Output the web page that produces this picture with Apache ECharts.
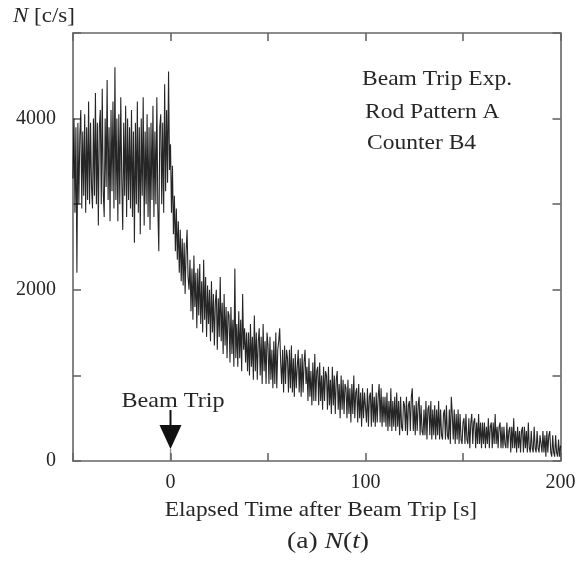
<!DOCTYPE html>
<html>
<head>
<meta charset="utf-8">
<script src="https://cdn.jsdelivr.net/npm/echarts@6/dist/echarts.min.js"></script>
<style>html,body{margin:0;padding:0;background:#fff}#c{width:585px;height:566px}</style>
</head>
<body>
<div id="c"></div>
<script>
// sampling of the trace: one value every 0.5 s
const tStart = -50;
const tStep = 0.5;
// counts before the beam trip, t = -50 ... -0.5 s
const countsPre = [
3300,4000,2900,3900,2200,3950,3000,3800,4100,2950,3850,3100,4050,2900,3900,3050,4200,3000,3950,3200,
2950,4000,3100,4300,3000,3950,2750,3900,4100,3000,4350,3150,2850,4000,3200,4450,3050,3900,2800,4100,
3150,4200,2950,4600,3050,4000,2800,4050,3000,4250,3300,2700,3950,3100,4150,2850,4000,3050,3900,2950,
4100,2850,3850,2550,3950,3000,4200,2900,3900,2650,4000,3100,4250,2750,3850,3000,4050,2850,3900,2700,
3950,3050,4150,2850,3850,3000,4250,2950,2450,3900,4050,3000,3950,2900,4400,3150,4100,3250,4550,3400
];
// counts after the beam trip, t = 0 ... 200 s
const countsPost = [
3700,2900,3450,2650,3100,2450,2950,2350,2800,2200,2700,2100,2600,2050,2550,1950,2450,2700,2150,2000,
2350,1750,2250,1650,2400,1800,2200,1550,2250,1700,2300,1600,2100,1500,2350,1650,2150,1450,2050,1600,
2000,1400,2100,1500,1950,1350,1850,2000,1300,1900,1450,2150,1400,1850,1250,1950,1350,1800,1200,1750,
1700,1150,1800,1250,1650,1100,2250,1200,1600,1100,1750,1200,1650,1050,1950,1300,1550,1150,1500,1050,
1500,1000,1600,1100,1450,950,1700,1050,1500,950,1400,1550,1000,1450,900,1600,1050,1400,900,1500,
1350,900,1450,950,1300,850,1400,900,1500,850,1300,1400,1550,1150,900,1300,800,1350,900,1300,
1200,800,1300,850,1350,800,1200,750,1250,850,1100,1300,800,1200,750,1250,800,1150,1300,900,
1100,700,1200,750,1050,650,1150,700,1250,700,1050,1100,650,1150,700,1000,600,1100,700,1050,
1000,600,1100,650,950,550,1100,650,1000,550,950,1050,600,900,500,1000,600,950,550,900,
850,500,950,550,850,450,900,550,1000,500,800,850,450,900,500,800,400,850,500,800,
800,450,850,400,750,800,400,900,450,750,400,800,450,750,900,450,850,400,750,450,
750,400,800,350,700,400,850,350,700,400,750,350,800,400,700,300,750,400,350,700,
650,350,750,300,650,700,350,750,850,350,650,300,700,350,650,750,300,650,350,300,
600,300,700,250,600,650,300,700,250,600,300,650,250,600,300,700,250,600,300,250,
550,600,250,650,300,250,600,200,750,550,250,600,200,550,250,600,200,550,250,200,
450,500,200,550,250,200,500,150,450,550,200,450,500,150,450,200,550,200,450,150,
450,200,450,150,400,200,500,150,400,450,150,450,200,550,200,400,150,400,450,150,
400,150,400,200,150,450,150,350,400,100,400,150,500,150,350,100,400,150,350,100,
350,400,100,400,150,350,100,450,150,100,350,150,100,400,150,100,350,150,100,300,
300,100,350,100,300,50,350,100,300,350,100,50,300,100,50,300,100,50,250,50,
180
];
const xTickLabels = ['0','100','200'];
const yTickLabels = ['0','2000','4000'];
const tripTime = 0;
const notes = ['Beam Trip Exp.', 'Rod Pattern A', 'Counter B4'];

const counts = countsPre.concat(countsPost);
const seriesData = counts.map((v, i) => [tStart + i * tStep, v]);

const FONT = '"Liberation Serif","Times New Roman",serif';
const axisCol = '#666';
const txtCol = '#262626';

const chart = echarts.init(document.getElementById('c'), null, {renderer: 'canvas'});
const commonX = {
  type: 'value', min: -50, max: 200, interval: 50,
  axisLine: {show: true, onZero: false, lineStyle: {color: axisCol, width: 1.6}},
  axisTick: {show: true, inside: true, length: 8, lineStyle: {color: axisCol, width: 1.6}},
  splitLine: {show: false}
};
const commonY = {
  type: 'value', min: 0, max: 5000, interval: 1000,
  axisLine: {show: true, onZero: false, lineStyle: {color: axisCol, width: 1.6}},
  axisTick: {show: true, inside: true, length: 8, lineStyle: {color: axisCol, width: 1.6}},
  splitLine: {show: false}
};
chart.setOption({
  animation: false,
  backgroundColor: '#fff',
  grid: {left: 73, right: 24.5, top: 33, bottom: 105},
  xAxis: [
    Object.assign({}, commonX, {
      position: 'bottom',
      axisLabel: {
        show: true, margin: 12, fontFamily: FONT, fontSize: 20, color: txtCol,
        formatter: v => xTickLabels.indexOf(String(v)) >= 0 ? String(v) : ''
      }
    }),
    Object.assign({}, commonX, {position: 'top', axisLabel: {show: false}})
  ],
  yAxis: [
    Object.assign({}, commonY, {
      position: 'left',
      axisLabel: {
        show: true, margin: 17, fontFamily: FONT, fontSize: 20, color: txtCol,
        formatter: v => yTickLabels.indexOf(String(v)) >= 0 ? String(v) : ''
      }
    }),
    Object.assign({}, commonY, {position: 'right', axisLabel: {show: false}})
  ],
  series: [{
    type: 'line',
    data: seriesData,
    xAxisIndex: 0, yAxisIndex: 0,
    showSymbol: false,
    symbol: 'none',
    sampling: null,
    lineStyle: {color: '#000', width: 1.1, opacity: 0.85},
    z: 1
  }]
});

const px = chart.convertToPixel({xAxisIndex: 0, yAxisIndex: 0}, [tripTime, 0]);
const ax = px[0], ay = px[1];
function txt(s, x, y, size, sx, align, rich) {
  const st = {text: s, font: size + 'px ' + FONT, fill: txtCol, align: align || 'left', verticalAlign: 'middle'};
  if (rich) st.rich = rich;
  return {type: 'text', x: x, y: y, originX: 0, originY: 0, scaleX: sx, style: st};
}
const italic = size => ({i: {fontStyle: 'italic', fontFamily: FONT, fontSize: size, fill: txtCol}});
chart.setOption({
  graphic: [
    txt('{i|N} [c/s]', 13, 17, 20, 1.15, 'left', italic(20)),
    txt(notes[0], 362, 79, 21, 1.12),
    txt(notes[1], 365, 112, 21, 1.12),
    txt(notes[2], 367, 143, 21, 1.12),
    txt('Beam Trip', ax - 49, 401, 21, 1.15),
    {type: 'line', shape: {x1: ax, y1: 410, x2: ax, y2: 428}, style: {stroke: '#111', lineWidth: 2}},
    {type: 'polygon', shape: {points: [[ax - 11, 425], [ax + 11, 425], [ax, 449]]}, style: {fill: '#111'}},
    {type: 'line', shape: {x1: ax, y1: 449, x2: ax, y2: ay}, style: {stroke: '#999', lineWidth: 1.5}},
    Object.assign(txt('Elapsed Time after Beam Trip [s]', 0, 510, 21, 1.11, 'center'), {x: 321}),
    txt('(a) {i|N}({i|t})', 328, 542, 23, 1.2, 'center', italic(23))
  ]
});
</script>
</body>
</html>
